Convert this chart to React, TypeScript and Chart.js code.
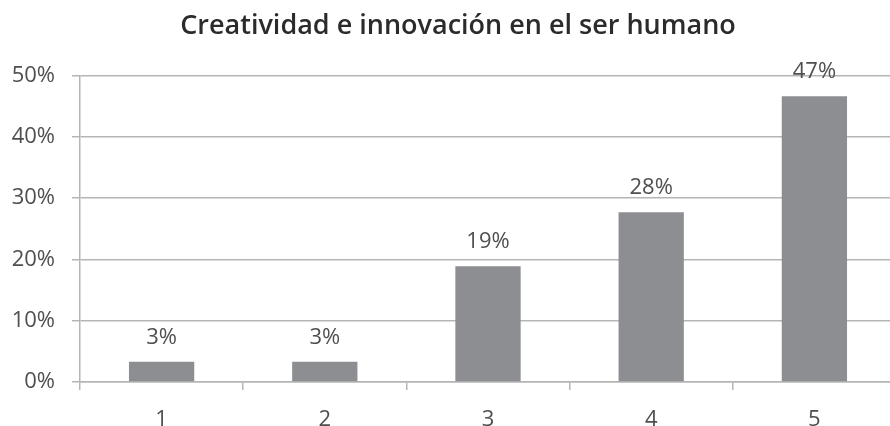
import React, { useEffect, useRef } from "react";
import { Chart, registerables } from "chart.js";

Chart.register(...registerables);

const chartTitle = "Creatividad e innovación en el ser humano";
const categories = ["1", "2", "3", "4", "5"];
const percentValues = [3.3, 3.3, 18.9, 27.7, 46.6];
const valueLabels = ["3%", "3%", "19%", "28%", "47%"];
const yTickValues = [0, 10, 20, 30, 40, 50];

const FONT = "'Open Sans', 'DejaVu Sans', sans-serif";
const GRID = "#b5b5b5";

const dataLabelPlugin = {
  id: "dataLabels",
  afterDatasetsDraw(chart: any) {
    const ctx = chart.ctx;
    const meta = chart.getDatasetMeta(0);
    ctx.save();
    ctx.font = `22px ${FONT}`;
    ctx.fillStyle = "#4f4f4f";
    ctx.textAlign = "center";
    ctx.textBaseline = "alphabetic";
    meta.data.forEach((bar: any, i: number) => {
      ctx.fillText(valueLabels[i], bar.x, bar.y - 18);
    });
    ctx.restore();
  },
};

const titlePlugin = {
  id: "customTitle",
  afterDraw(chart: any) {
    const ctx = chart.ctx;
    ctx.save();
    ctx.font = `600 27px ${FONT}`;
    ctx.fillStyle = "#2b2b2b";
    ctx.textAlign = "center";
    ctx.textBaseline = "alphabetic";
    ctx.fillText(chartTitle, 458, 34);
    ctx.restore();
  },
};

export default function App() {
  const ref = useRef<HTMLCanvasElement>(null);
  useEffect(() => {
    if (!ref.current) return;
    const chart = new Chart(ref.current, {
      type: "bar",
      data: {
        labels: categories,
        datasets: [
          {
            data: percentValues,
            backgroundColor: "#8d8e92",
            borderWidth: 0,
            barPercentage: 0.4,
            categoryPercentage: 1,
          },
        ],
      },
      options: {
        responsive: false,
        animation: false,
        layout: { padding: { left: 0, right: 4, top: 75.5, bottom: 0 } },
        plugins: {
          legend: { display: false },
          tooltip: { enabled: false },
          title: { display: false },
        },
        scales: {
          x: {
            offset: true,
            grid: {
              offset: true,
              drawOnChartArea: false,
              drawTicks: true,
              tickLength: 8,
              color: GRID,
              lineWidth: 1.5,
            },
            border: { display: true, color: GRID, width: 1.5 },
            ticks: {
              color: "#4f4f4f",
              font: { family: FONT, size: 22 },
              padding: 17,
            },
            afterFit(scale: any) {
              scale.height = 44;
            },
          },
          y: {
            min: 0,
            max: 50,
            afterBuildTicks(scale: any) {
              scale.ticks = yTickValues.map((v) => ({ value: v }));
            },
            grid: {
              color: GRID,
              lineWidth: 1.5,
              tickLength: 8,
            },
            border: { display: true, color: GRID, width: 1.5 },
            ticks: {
              color: "#4f4f4f",
              font: { family: FONT, size: 22 },
              padding: 17,
              callback: (v: any) => `${v}%`,
            },
            afterFit(scale: any) {
              scale.width = 80;
            },
          },
        },
      },
      plugins: [dataLabelPlugin, titlePlugin],
    });
    return () => chart.destroy();
  }, []);
  return (
    <div
      style={{
        position: "fixed",
        left: 0,
        top: 0,
        width: 900,
        height: 426,
        background: "#fff",
      }}
    >
      <canvas ref={ref} width={900} height={426} />
    </div>
  );
}
